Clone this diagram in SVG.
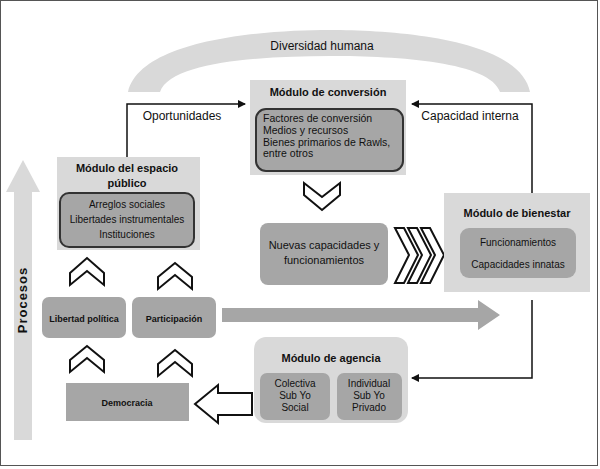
<svg xmlns="http://www.w3.org/2000/svg" width="600" height="469" viewBox="0 0 600 469">
<style>
text{font-family:"Liberation Sans",Arial,sans-serif;font-size:11px;fill:#111;text-anchor:middle}
.b{font-weight:bold}
.mod{fill:#d9d9d9}
.dk{fill:#a6a6a6}
.ib{fill:#a6a6a6;stroke:#333;stroke-width:2}
.chev{fill:#fff;stroke:#111;stroke-width:2;stroke-linejoin:miter}
.ln{fill:none;stroke:#111;stroke-width:1.5}
</style>
<defs><marker id="ah" markerWidth="8" markerHeight="8" refX="7" refY="4" orient="auto" markerUnits="userSpaceOnUse"><path d="M0,0L8,4L0,8z" fill="#111"/></marker></defs>
<rect x="0.5" y="0.5" width="597" height="465" fill="#fff" stroke="#555"/>
<g id="arch"><path d="M128,92 C140,40 260,30 330,30 C400,30 520,40 530,92 L500,92 C490,62 400,56 330,56 C260,56 170,62 160,92 Z" fill="#d9d9d9"/><text x="322" y="50" style="font-size:12px">Diversidad humana</text></g>
<g id="procesos"><path d="M14,440 V192 H6 L23,160 L40,192 H32 V440 Z" fill="#d9d9d9"/><text transform="translate(27,300) rotate(-90)" class="b" style="font-size:13px;letter-spacing:1px">Procesos</text></g>
<g id="conexiones">
<polyline class="ln" points="127,157 127,104 245,104" marker-end="url(#ah)"/>
<polyline class="ln" points="532,193 532,104 412,104" marker-end="url(#ah)"/>
<polyline class="ln" points="532,300 532,378 412,378" marker-end="url(#ah)"/>
<text x="182" y="120" style="font-size:12px">Oportunidades</text>
<text x="470" y="120" style="font-size:12px">Capacidad  interna</text>
<path d="M222,308 H478 V300 L500,315 L478,330 V322 H222 Z" fill="#a6a6a6"/>
<path d="M252,393 H218 V385 L195,404 L218,423 V415 H252 Z" class="chev"/>
<polygon class="chev" points="70,273 87,258 104,273 104,285 87,271 70,285"/>
<polygon class="chev" points="158,277 175,263 192,277 192,289 175,275 158,289"/>
<polygon class="chev" points="70,360 87,346 104,360 104,372 87,358 70,372"/>
<polygon class="chev" points="158,364 175,350 192,364 192,376 175,362 158,376"/>
<polygon class="chev" points="304,183 322,197 340,183 340,195 322,210 304,195"/>
<polygon class="chev" points="395,228 409,255 395,283 404,283 418,255 404,228"/>
<polygon class="chev" points="408,228 422,255 408,283 417,283 431,255 417,228"/>
<polygon class="chev" points="421,228 435,255 421,283 430,283 444,255 430,228"/>
</g>
<g id="conversion"><rect class="mod" x="250" y="80" width="156" height="95"/><text x="328" y="96" class="b">Módulo de conversión</text>
<rect class="ib" x="256" y="109" width="147" height="62" rx="10"/>
<text x="263" y="122" style="text-anchor:start;font-size:10.5px">Factores de conversión</text>
<text x="263" y="134" style="text-anchor:start;font-size:10.5px">Medios y recursos</text>
<text x="263" y="146" style="text-anchor:start;font-size:10.5px">Bienes primarios de Rawls,</text>
<text x="263" y="157" style="text-anchor:start;font-size:10.5px">entre otros</text></g>
<g id="espacio"><rect class="mod" x="57" y="157" width="143" height="93"/><text x="127" y="172" class="b">Módulo del espacio</text><text x="127" y="187" class="b">público</text>
<rect class="ib" x="60" y="193" width="134" height="54" rx="9"/>
<text x="127" y="208" style="font-size:10px">Arreglos sociales</text><text x="127" y="223" style="font-size:10px">Libertades instrumentales</text><text x="127" y="238" style="font-size:10px">Instituciones</text></g>
<g id="nuevas"><rect class="dk" x="260" y="223" width="128" height="62" rx="8"/><text x="324" y="249">Nuevas capacidades y</text><text x="324" y="264">funcionamientos</text></g>
<g id="bienestar"><rect class="mod" x="444" y="193" width="146" height="99"/><text x="517" y="217" class="b">Módulo de bienestar</text>
<rect class="dk" x="460" y="228" width="116" height="50" rx="9"/><text x="518" y="246" style="font-size:10px">Funcionamientos</text><text x="518" y="268" style="font-size:10px">Capacidades innatas</text></g>
<g id="libertad"><rect class="dk" x="42" y="297" width="84" height="41" rx="7"/><text x="84" y="322" class="b" style="font-size:9px">Libertad política</text></g>
<g id="participacion"><rect class="dk" x="132" y="297" width="84" height="41" rx="7"/><text x="174" y="322" class="b" style="font-size:9px">Participación</text></g>
<g id="democracia"><rect class="dk" x="66" y="383" width="123" height="38"/><text x="127" y="406" class="b" style="font-size:9px">Democracia</text></g>
<g id="agencia"><rect class="mod" x="254" y="337" width="154" height="86" rx="12"/><text x="331" y="362" class="b">Módulo de agencia</text>
<rect class="dk" x="260" y="373" width="70" height="47" rx="7"/><text x="295" y="387" style="font-size:10px">Colectiva</text><text x="295" y="399" style="font-size:10px">Sub Yo</text><text x="295" y="411" style="font-size:10px">Social</text>
<rect class="dk" x="337" y="373" width="65" height="47" rx="7"/><text x="369" y="387" style="font-size:10px">Individual</text><text x="369" y="399" style="font-size:10px">Sub Yo</text><text x="369" y="411" style="font-size:10px">Privado</text></g>
</svg>
